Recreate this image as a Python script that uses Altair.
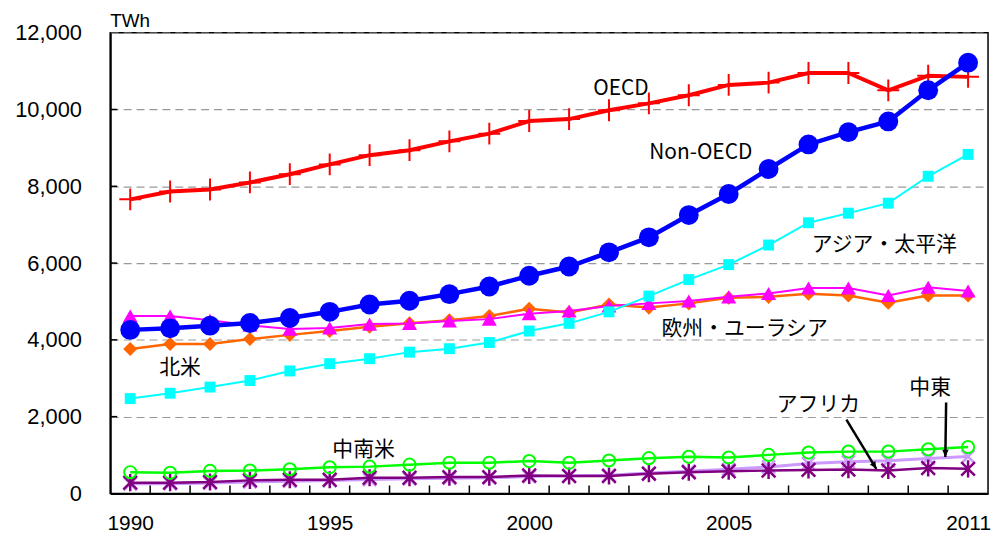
import math
import altair as alt
import pandas as pd

# ---------------- data (TWh) ----------------
years = list(range(1990, 2012))

oecd = [7660, 7864, 7915, 8100, 8315, 8570, 8810, 8940, 9170, 9370, 9700,
        9750, 9980, 10160, 10370, 10640, 10700, 10950, 10950, 10500, 10880, 10850]
non_oecd = [4260, 4300, 4370, 4440, 4570, 4730, 4920, 5020, 5190, 5390, 5670,
            5910, 6280, 6670, 7250, 7800, 8450, 9090, 9410, 9690, 10500, 11220]
asia_pacific = [2470, 2610, 2770, 2940, 3190, 3380, 3510, 3680, 3770, 3930, 4230,
                4430, 4730, 5140, 5570, 5960, 6470, 7050, 7300, 7560, 8260, 8830]
europe_eurasia = [4620, 4620, 4510, 4380, 4280, 4310, 4410, 4425, 4490, 4540, 4680,
                  4750, 4880, 4950, 5010, 5120, 5210, 5350, 5350, 5155, 5370, 5270]
north_america = [3760, 3890, 3890, 4020, 4130, 4230, 4340, 4430, 4510, 4620, 4810,
                 4710, 4920, 4840, 4950, 5095, 5120, 5200, 5155, 4965, 5155, 5155]
latin_america = [553, 536, 587, 596, 630, 681, 698, 749, 800, 800, 843,
                 798, 858, 918, 953, 936, 1004, 1064, 1089, 1089, 1149, 1208]
africa = [281, 281, 298, 340, 357, 357, 408, 408, 425, 425, 468,
          455, 455, 515, 553, 579, 596, 613, 621, 596, 664, 640]
middle_east = [250, 255, 270, 300, 320, 335, 360, 380, 395, 405, 440,
               460, 475, 530, 580, 630, 690, 780, 825, 850, 910, 960]

x_label_values = [1990, 1995, 2000, 2005, 2011]
y_tick_values = [0, 2000, 4000, 6000, 8000, 10000, 12000]
inner_y_ticks = [2000, 4000, 6000, 8000, 10000]
inner_x_ticks = [y + 0.5 for y in range(1990, 2011)]
unit_label = "TWh"

ann_labels = ["OECD", "Non-OECD", "アジア・太平洋", "欧州・ユーラシア", "北米", "中南米", "アフリカ", "中東"]
ann_x = [2002.3, 2004.3, 2008.9, 2005.4, 1991.25, 1995.85, 2007.25, 2010.05]
ann_y = [10520, 8860, 6460, 4290, 3270, 1130, 2300, 2740]

arrow_x1 = [2007.95, 2010.45]
arrow_y1 = [1920, 2370]
arrow_x2 = [2008.7, 2010.43]
arrow_y2 = [640, 950]

# ---------------- layout ----------------
W, H = 884, 464
XDOM = [1989.5, 2011.5]
YDOM = [0, 12000]
x_scale = alt.Scale(domain=XDOM, nice=False, zero=False)
y_scale = alt.Scale(domain=YDOM, nice=False, zero=False)
JP = "Noto Sans CJK JP"
NUM = "Liberation Sans"

x_axis = alt.Axis(values=x_label_values, labelExpr="format(datum.value, 'd')",
                  ticks=False, grid=False,
                  labelFontSize=21, labelFont=NUM, labelColor="black",
                  labelPadding=19, labelFlush=False, domainColor="black",
                  domainWidth=2, title=None)
y_axis = alt.Axis(values=y_tick_values, labelExpr="format(datum.value, ',')",
                  ticks=False, grid=True,
                  gridDash=[8, 5], gridColor="#999999", gridWidth=1.2,
                  labelFontSize=22, labelFont=NUM, labelColor="black",
                  labelPadding=29, domainColor="black", domainWidth=2,
                  title=None)


def X(field):
    return alt.X(field, scale=x_scale, axis=x_axis)


def Y(field):
    return alt.Y(field, scale=y_scale, axis=y_axis)


def series(vals, color, lw, shape, size, filled, pw):
    df = pd.DataFrame({"year": years, "value": vals})
    base = alt.Chart(df).encode(x=X("year:Q"), y=Y("value:Q"))
    line = base.mark_line(color=color, strokeWidth=lw)
    pt = base.mark_point(shape=shape, size=size, filled=filled, color=color,
                         strokeWidth=pw, opacity=1)
    return [line, pt]


# inward tick marks
ytick_df = pd.DataFrame({"value": inner_y_ticks})
yticks = alt.Chart(ytick_df).mark_rule(color="black", strokeWidth=1.5).encode(
    y=Y("value:Q"), x=alt.value(0), x2=alt.value(7),
)
xtick_df = pd.DataFrame({"year": inner_x_ticks})
xticks = alt.Chart(xtick_df).mark_rule(color="black", strokeWidth=1.5).encode(
    x=X("year:Q"), y=alt.value(H), y2=alt.value(H - 8),
)

plus_path = "M-1,0L1,0M0,-1L0,1"
x_path = "M-1,-1L1,1M-1,1L1,-1"
star_path = "M-1,-1L1,1M-1,1L1,-1M0,-1.25L0,1.25"

layers = []
layers += series(middle_east, "#CC99FF", 3, x_path, 170, False, 2.5)
layers += series(africa, "#800080", 2.5, star_path, 190, False, 2.5)
layers += series(latin_america, "#00FF00", 2.5, "circle", 150, False, 2)
layers += series(north_america, "#FF6600", 2.5, "diamond", 200, True, 1)
layers += series(europe_eurasia, "#FF00FF", 2, "triangle-up", 230, True, 1)
layers += series(asia_pacific, "#00FFFF", 2, "square", 121, True, 1)
layers += series(oecd, "#FF0000", 4, plus_path, 484, False, 2)
layers += series(non_oecd, "#0000FF", 4.5, "circle", 400, True, 1)
layers += [yticks, xticks]

# unit label above the plot
unit_df = pd.DataFrame({"label": [unit_label], "x": [XDOM[0]], "y": [YDOM[1]]})
unit_text = alt.Chart(unit_df).mark_text(font=NUM, fontSize=19, color="black",
                                         align="left", baseline="bottom", dy=-2).encode(
    x=X("x:Q"), y=Y("y:Q"), text="label:N",
)

# annotations
ann_df = pd.DataFrame({"label": ann_labels, "x": ann_x, "y": ann_y})
texts = alt.Chart(ann_df).mark_text(font=JP, fontSize=21, color="black",
                                    align="center", baseline="middle").encode(
    x=X("x:Q"), y=Y("y:Q"), text="label:N",
)

# arrows
px_per_x = W / (XDOM[1] - XDOM[0])
px_per_y = H / (YDOM[1] - YDOM[0])
angles = []
for a, b, c, d in zip(arrow_x1, arrow_y1, arrow_x2, arrow_y2):
    dx = (c - a) * px_per_x
    dy = -(d - b) * px_per_y
    angles.append(math.degrees(math.atan2(dx, -dy)) % 360)
arr_df = pd.DataFrame({"x1": arrow_x1, "y1": arrow_y1, "x2": arrow_x2,
                       "y2": arrow_y2, "ang": angles})
arr_lines = alt.Chart(arr_df).mark_rule(color="black", strokeWidth=2.5).encode(
    x=X("x1:Q"), y=Y("y1:Q"), x2="x2:Q", y2="y2:Q",
)
arr_heads = alt.Chart(arr_df).mark_point(
    shape="M0,0L-0.8,1.8L0.8,1.8Z", size=64, filled=True, color="black", opacity=1
).encode(
    x=X("x2:Q"), y=Y("y2:Q"), angle=alt.Angle("ang:Q", scale=None),
)

layers += [unit_text, texts, arr_lines, arr_heads]

chart = alt.layer(*layers).properties(
    width=W, height=H,
    padding={"left": 103, "top": 23, "right": 4, "bottom": 43},
    autosize=alt.AutoSizeParams(type="none"),
    background="white",
).configure_view(stroke="black", strokeWidth=1.5)

chart.save("out.html", embed_options={"renderer": "svg", "actions": False})
